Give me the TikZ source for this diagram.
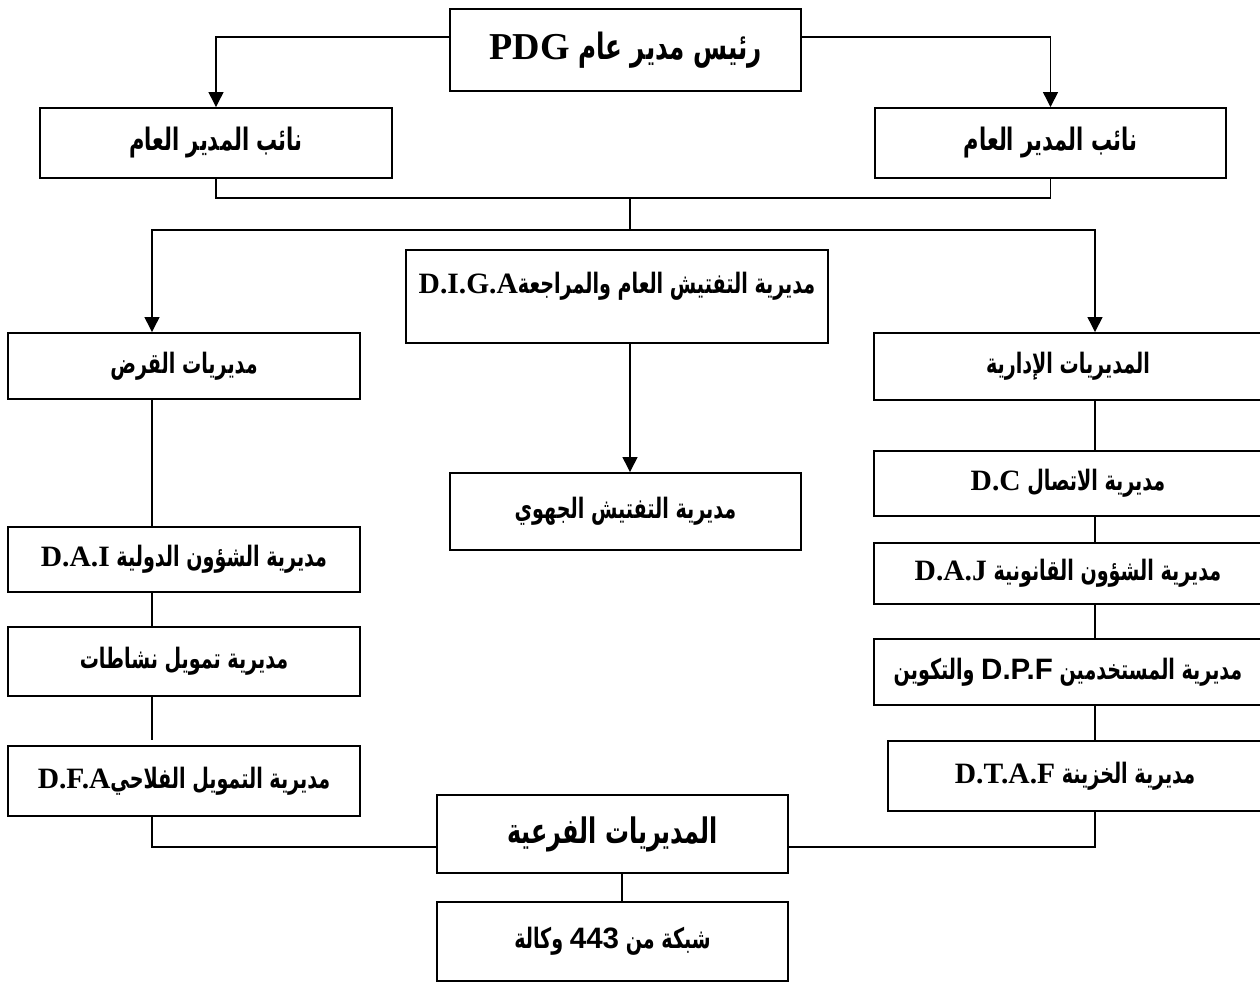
\documentclass[tikz,border=0pt]{standalone}
\usepackage{fontspec}
\usetikzlibrary{arrows.meta}
\TeXXeTstate=1
\newfontfamily\arabicfont[Script=Arabic,FakeStretch=0.68]{DejaVu Sans}
\newfontfamily\latinfont[Scale=1.05]{Liberation Serif}
\newfontfamily\latinsans[Scale=1.05]{Liberation Sans}
\newcommand{\artxt}[1]{\beginR #1\endR}
\newcommand{\lat}[1]{{\latinfont\beginL #1\endL}}
\newcommand{\lats}[1]{{\latinsans\beginL #1\endL}}
\tikzset{arr/.style={-{Triangle[length=8.5pt,width=8.5pt]}}}

\begin{document}
\begin{tikzpicture}[x=0.02cm,y=-0.02cm]
  \useasboundingbox (0,0) rectangle (1260,983);

  \begin{scope}[every node/.style={draw,line width=1.1pt,inner sep=0pt,
      font=\arabicfont\bfseries\fontsize{16}{18}\selectfont}]
    \node[minimum width=7.02cm,minimum height=1.64cm,
      font=\arabicfont\bfseries\fontsize{20.6}{23}\selectfont] (pdg) at (625.5,50) {\artxt{رئيس مدير عام \lat{PDG}}};
    \node[minimum width=7.04cm,minimum height=1.40cm,
      font=\arabicfont\bfseries\fontsize{17.6}{19}\selectfont] (vpl) at (216,143)    {\artxt{نائب المدير العام}};
    \node[minimum width=7.02cm,minimum height=1.40cm,
      font=\arabicfont\bfseries\fontsize{17.6}{19}\selectfont] (vpr) at (1050.5,143) {\artxt{نائب المدير العام}};
    \node[minimum width=8.44cm,minimum height=1.86cm,text height=0.3cm,text depth=0.44cm] (diga) at (617,296.5)
      {\artxt{مديرية التفتيش العام والمراجعة\lat{D.I.G.A}}};
    \node[minimum width=7.04cm,minimum height=1.32cm] (qard)   at (184,366)    {\artxt{مديريات القرض}};
    \node[minimum width=7.76cm,minimum height=1.34cm] (idara)  at (1068,366.5) {\artxt{المديريات الإدارية}};
    \node[minimum width=7.02cm,minimum height=1.54cm] (jihawi) at (625.5,511.5) {\artxt{مديرية التفتيش الجهوي}};
    \node[minimum width=7.04cm,minimum height=1.30cm] (dai)    at (184,559.5)  {\artxt{مديرية الشؤون الدولية \lat{D.A.I}}};
    \node[minimum width=7.04cm,minimum height=1.38cm] (tamwil) at (184,661.5)  {\artxt{مديرية تمويل نشاطات}};
    \node[minimum width=7.04cm,minimum height=1.40cm] (dfa)    at (184,781)    {\artxt{مديرية التمويل الفلاحي\lat{D.F.A}}};
    \node[minimum width=7.76cm,minimum height=1.30cm] (dc)     at (1068,483.5) {\artxt{مديرية الاتصال \lat{D.C}}};
    \node[minimum width=7.76cm,minimum height=1.22cm] (daj)    at (1068,573.5) {\artxt{مديرية الشؤون القانونية \lat{D.A.J}}};
    \node[minimum width=7.76cm,minimum height=1.32cm] (dpf)    at (1068,672)   {\artxt{مديرية المستخدمين \lats{D.P.F} والتكوين}};
    \node[minimum width=7.48cm,minimum height=1.40cm] (dtaf)   at (1075,776)   {\artxt{مديرية الخزينة \lat{D.T.A.F}}};
    \node[minimum width=7.02cm,minimum height=1.56cm,
      font=\arabicfont\bfseries\fontsize{20}{22}\selectfont] (sub) at (612.5,834) {\artxt{المديريات الفرعية}};
    \node[minimum width=7.02cm,minimum height=1.58cm] (net)    at (612.5,941.5) {\artxt{شبكة من \lats{443} وكالة}};
  \end{scope}

  % junctions of the connectors
  \coordinate (lvl)  at (0,37);
  \coordinate (j1)   at (630,198);
  \coordinate (j2)   at (630,230);
  \coordinate (colL) at (152,0);
  \coordinate (colR) at (1095,0);
  \coordinate (colM) at (622,0);
  \coordinate (bot)  at (0,847);

  \begin{scope}[line width=0.75pt]
    \draw[arr] (pdg.west |- lvl) -| (vpl.north);
    \draw[arr] (pdg.east |- lvl) -| (vpr.north);
    \draw (vpl.south) |- (j1) -| (vpr.south);
    \draw (j1) -- (j2);
    \draw[arr] (j2) -| (qard.north -| colL);
    \draw[arr] (j2) -| (idara.north -| colR);
    \draw[arr] (diga.south -| j1) -- (jihawi.north -| j1);

    \draw (qard.south -| colL) -- (dai.north -| colL);
    \draw (dai.south -| colL) -- (tamwil.north -| colL);
    \draw[shorten >=3pt] (tamwil.south -| colL) -- (dfa.north -| colL);
    \draw (dfa.south -| colL) |- (sub.west |- bot);

    \draw (idara.south -| colR) -- (dc.north -| colR);
    \draw (dc.south -| colR) -- (daj.north -| colR);
    \draw (daj.south -| colR) -- (dpf.north -| colR);
    \draw (dpf.south -| colR) -- (dtaf.north -| colR);
    \draw (dtaf.south -| colR) |- (sub.east |- bot);

    \draw (sub.south -| colM) -- (net.north -| colM);
  \end{scope}

\end{tikzpicture}
\end{document}
